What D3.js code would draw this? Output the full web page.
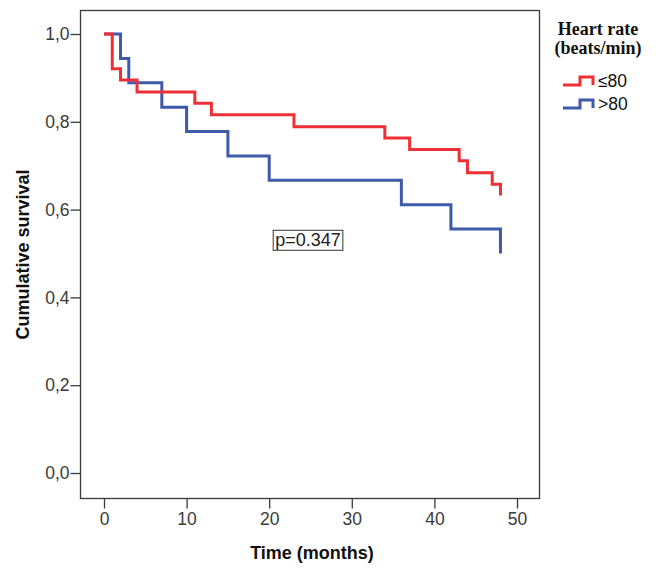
<!DOCTYPE html>
<html>
<head>
<meta charset="utf-8">
<script src="https://cdn.jsdelivr.net/npm/d3@7/dist/d3.min.js"></script>
<style>
  body { margin: 0; background: #fff; }
  svg { display: block; }
</style>
</head>
<body>
<div id="chart"></div>
<script>
// survival curves (months, cumulative survival)
const lowTimes = [0, 1, 2, 4, 11, 13, 23, 34, 37, 43, 44, 47, 48]
const lowSurv = [1.0, 0.921, 0.895, 0.868, 0.842, 0.816, 0.789, 0.763, 0.737, 0.711, 0.684, 0.658, 0.632]
const highTimes = [0, 2, 3, 7, 10, 15, 20, 36, 42, 48]
const highSurv = [1.0, 0.944, 0.889, 0.833, 0.778, 0.722, 0.667, 0.611, 0.556, 0.5]

const groupLabels = ['\u226480', '>80']
const xTicks = [0, 10, 20, 30, 40, 50]
const yTicks = [0, 0.2, 0.4, 0.6, 0.8, 1.0]
const pLabel = 'p=0.347'

const colors = ['#ee2f36', '#3f5aaa']

const W = 667, H = 572
const frame = { left: 80.5, top: 10.5, right: 539.5, bottom: 498.5 }

const svg = d3.select('#chart').append('svg')
    .attr('width', W)
    .attr('height', H)

//scales
const xScale = d3.scaleLinear().domain([0, 50]).range([104, 517])
const yScale = d3.scaleLinear().domain([0, 1]).range([473, 34])

// frame
svg.append('rect')
    .attr('x', frame.left).attr('y', frame.top)
    .attr('width', frame.right - frame.left)
    .attr('height', frame.bottom - frame.top)
    .attr('fill', 'none')
    .attr('stroke', '#3a3a3a')
    .attr('stroke-width', 1.3)

//axes
const yAxis = svg.append('g')
    .attr('transform', `translate(${frame.left},0)`)
    .call(d3.axisLeft(yScale).tickValues(yTicks).tickSize(10).tickPadding(1)
        .tickFormat(d => d3.format('.1f')(d).replace('.', ',')))
const xAxis = svg.append('g')
    .attr('transform', `translate(0,${frame.bottom})`)
    .call(d3.axisBottom(xScale).tickValues(xTicks).tickSize(10).tickPadding(4))

svg.selectAll('.domain').remove()
svg.selectAll('.tick line').attr('stroke', '#3a3a3a').attr('stroke-width', 1.3)
svg.selectAll('.tick text')
    .attr('fill', '#3a3a3a')
    .style('font-family', 'Liberation Sans, Arial, sans-serif')
    .style('font-size', '17.5px')

// curves
const line = d3.line()
    .x(d => xScale(d[0]))
    .y(d => yScale(d[1]))
    .curve(d3.curveStepAfter)

const series = [
    d3.zip(lowTimes, lowSurv),
    d3.zip(highTimes, highSurv)
]

// blue first so red overlays at the start
svg.append('g').selectAll('path')
    .data([series[1], series[0]])
    .join('path')
    .attr('d', line)
    .attr('fill', 'none')
    .attr('stroke', (d, i) => i === 0 ? colors[1] : colors[0])
    .attr('stroke-width', 3)
    .attr('stroke-linejoin', 'miter')
    .attr('stroke-linecap', 'butt')

// p value box
const pBox = svg.append('rect')
const pText = svg.append('text')
    .attr('x', xScale(24.7))
    .attr('y', yScale(0.53))
    .attr('text-anchor', 'middle')
    .attr('dominant-baseline', 'central')
    .style('font-family', 'Liberation Sans, Arial, sans-serif')
    .style('font-size', '18px')
    .attr('fill', '#222')
    .text(pLabel)
const bb = pText.node().getBBox()
pBox.attr('x', bb.x - 2).attr('y', bb.y)
    .attr('width', bb.width + 4).attr('height', bb.height)
    .attr('fill', '#fff')
    .attr('stroke', '#555')
    .attr('stroke-width', 1.2)

// axis titles
svg.append('text')
    .attr('x', 312)
    .attr('y', 559)
    .attr('text-anchor', 'middle')
    .style('font-family', 'Liberation Sans, Arial, sans-serif')
    .style('font-weight', 'bold')
    .style('font-size', '18px')
    .attr('fill', '#111')
    .text('Time (months)')

svg.append('text')
    .attr('transform', `translate(29,${(frame.top + frame.bottom) / 2}) rotate(-90)`)
    .attr('text-anchor', 'middle')
    .style('font-family', 'Liberation Sans, Arial, sans-serif')
    .style('font-weight', 'bold')
    .style('font-size', '18px')
    .attr('fill', '#111')
    .text('Cumulative survival')

//legend
const legend = svg.append('g')
legend.selectAll('text.title')
    .data(['Heart rate', '(beats/min)'])
    .join('text')
    .attr('class', 'title')
    .attr('x', 598)
    .attr('y', (d, i) => 35 + i * 19)
    .attr('text-anchor', 'middle')
    .style('font-family', 'Liberation Serif, serif')
    .style('font-weight', 'bold')
    .style('font-size', '18px')
    .attr('fill', '#111')
    .text(d => d)

const items = legend.selectAll('g.item')
    .data(groupLabels)
    .join('g')
    .attr('class', 'item')
    .attr('transform', (d, i) => `translate(0,${i === 0 ? 87 : 110})`)

items.append('path')
    .attr('d', 'M563,-2 H580 V-10 H593 V-2')
    .attr('fill', 'none')
    .attr('stroke', (d, i) => colors[i])
    .attr('stroke-width', 3)

items.append('text')
    .attr('x', 598)
    .attr('y', 0)
    .style('font-family', 'Liberation Sans, Arial, sans-serif')
    .style('font-size', '17.5px')
    .attr('fill', '#111')
    .text(d => d)
</script>
</body>
</html>
